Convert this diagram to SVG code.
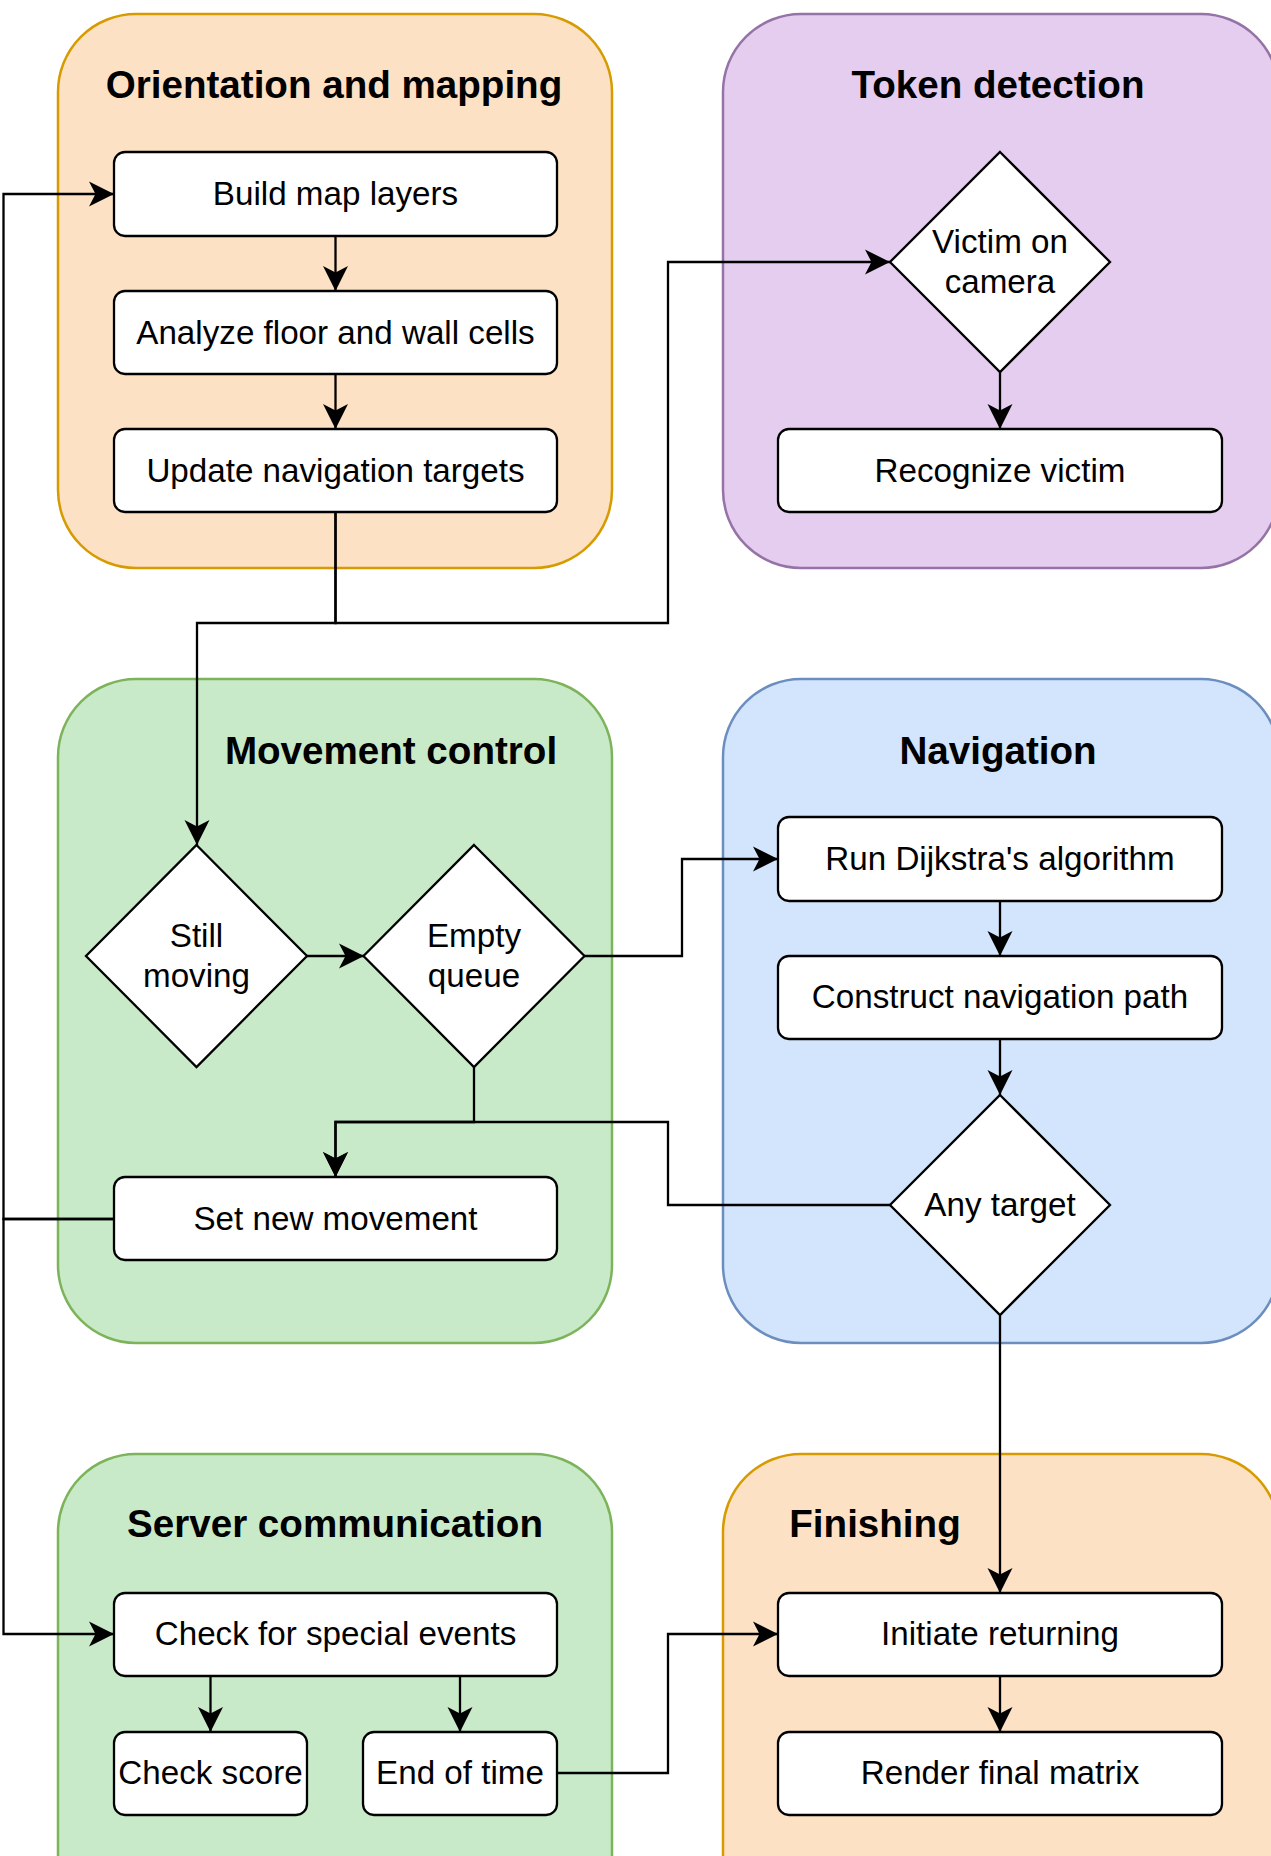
<svg xmlns="http://www.w3.org/2000/svg" width="1271" height="1856" viewBox="0 0 1271 1856">
<defs>
<marker id="arr" markerUnits="userSpaceOnUse" viewBox="-26 -14 28 28" refX="0" refY="0" markerWidth="28" markerHeight="28" orient="auto">
<path d="M-25,-12.5 L0,0 L-25,12.5 L-18.5,0 Z" fill="#000"/>
</marker>
<style>
.cont{stroke-width:2.5}
.orange{fill:#fde1c4;stroke:#d79b00}
.purple{fill:#e5cdf0;stroke:#9673a6}
.green{fill:#c8eac8;stroke:#7db35a}
.blue{fill:#d2e5fc;stroke:#6c8ebf}
.box{fill:#fff;stroke:#000;stroke-width:2.3}
.title{font-family:"Liberation Sans",Arial,sans-serif;font-weight:bold;font-size:38.6px;text-anchor:middle;fill:#000}
.lbl{font-family:"Liberation Sans",Arial,sans-serif;font-size:33.2px;text-anchor:middle;fill:#000}
.edge{fill:none;stroke:#000;stroke-width:2.3}
</style>
</defs>
<g id="containers">
<g id="grp-orientation"><rect class="cont orange" x="58" y="14" width="554" height="554" rx="78"/><text class="title" x="334" y="98">Orientation and mapping</text></g>
<g id="grp-token"><rect class="cont purple" x="723" y="14" width="556" height="554" rx="78"/><text class="title" x="998" y="98">Token detection</text></g>
<g id="grp-movement"><rect class="cont green" x="58" y="679" width="554" height="664" rx="78"/><text class="title" x="391" y="764">Movement control</text></g>
<g id="grp-navigation"><rect class="cont blue" x="723" y="679" width="556" height="664" rx="78"/><text class="title" x="998" y="764">Navigation</text></g>
<g id="grp-server"><rect class="cont green" x="58" y="1454" width="554" height="480" rx="78"/><text class="title" x="335" y="1537">Server communication</text></g>
<g id="grp-finishing"><rect class="cont orange" x="723" y="1454" width="556" height="480" rx="78"/><text class="title" x="875" y="1537">Finishing</text></g>
</g>
<g id="connectors">
<path class="edge" d="M335.5,236 V291" marker-end="url(#arr)"/>
<path class="edge" d="M335.5,374 V429" marker-end="url(#arr)"/>
<path class="edge" d="M335.5,512 V623 H197 V845" marker-end="url(#arr)"/>
<path class="edge" d="M335.5,512 V623 H668 V262 H890" marker-end="url(#arr)"/>
<path class="edge" d="M1000,372 V429" marker-end="url(#arr)"/>
<path class="edge" d="M307,956 H364" marker-end="url(#arr)"/>
<path class="edge" d="M584.5,956 H682 V859 H778" marker-end="url(#arr)"/>
<path class="edge" d="M1000,901 V956" marker-end="url(#arr)"/>
<path class="edge" d="M1000,1039 V1095" marker-end="url(#arr)"/>
<path class="edge" d="M474,1067 V1122 H335.5 V1177" marker-end="url(#arr)"/>
<path class="edge" d="M890,1205 H668 V1122 H335.5 V1177" marker-end="url(#arr)"/>
<path class="edge" d="M1000,1315 V1593" marker-end="url(#arr)"/>
<path class="edge" d="M114,1219 H3.5 V194 H114" marker-end="url(#arr)"/>
<path class="edge" d="M114,1219 H3.5 V1634 H114" marker-end="url(#arr)"/>
<path class="edge" d="M210.5,1676 V1732" marker-end="url(#arr)"/>
<path class="edge" d="M460,1676 V1732" marker-end="url(#arr)"/>
<path class="edge" d="M557,1773 H668 V1634 H778" marker-end="url(#arr)"/>
<path class="edge" d="M1000,1676 V1732" marker-end="url(#arr)"/>
</g>
<g id="n-build"><rect class="box" x="114" y="152" width="443" height="84" rx="11"/><text class="lbl" x="335.5" y="205">Build map layers</text></g>
<g id="n-analyze"><rect class="box" x="114" y="291" width="443" height="83" rx="11"/><text class="lbl" x="335.5" y="343.5">Analyze floor and wall cells</text></g>
<g id="n-update"><rect class="box" x="114" y="429" width="443" height="83" rx="11"/><text class="lbl" x="335.5" y="482">Update navigation targets</text></g>
<g id="n-victim"><polygon class="box" points="1000,152 1110,262 1000,372 890,262"/><text class="lbl" x="1000" y="253">Victim on</text><text class="lbl" x="1000" y="293">camera</text></g>
<g id="n-recognize"><rect class="box" x="778" y="429" width="444" height="83" rx="11"/><text class="lbl" x="1000" y="482">Recognize victim</text></g>
<g id="n-still"><polygon class="box" points="196.5,845 307,956 196.5,1067 86,956"/><text class="lbl" x="196.5" y="947">Still</text><text class="lbl" x="196.5" y="987">moving</text></g>
<g id="n-empty"><polygon class="box" points="474,845 584.5,956 474,1067 363.5,956"/><text class="lbl" x="474" y="947">Empty</text><text class="lbl" x="474" y="987">queue</text></g>
<g id="n-setmove"><rect class="box" x="114" y="1177" width="443" height="83" rx="11"/><text class="lbl" x="335.5" y="1230">Set new movement</text></g>
<g id="n-dijkstra"><rect class="box" x="778" y="817" width="444" height="84" rx="11"/><text class="lbl" x="1000" y="870">Run Dijkstra's algorithm</text></g>
<g id="n-construct"><rect class="box" x="778" y="956" width="444" height="83" rx="11"/><text class="lbl" x="1000" y="1008">Construct navigation path</text></g>
<g id="n-anytarget"><polygon class="box" points="1000,1095 1110,1205 1000,1315 890,1205"/><text class="lbl" x="1000" y="1216">Any target</text></g>
<g id="n-special"><rect class="box" x="114" y="1593" width="443" height="83" rx="11"/><text class="lbl" x="335.5" y="1645">Check for special events</text></g>
<g id="n-score"><rect class="box" x="114" y="1732" width="193" height="83" rx="11"/><text class="lbl" x="210.5" y="1784">Check score</text></g>
<g id="n-endtime"><rect class="box" x="363" y="1732" width="194" height="83" rx="11"/><text class="lbl" x="460" y="1784">End of time</text></g>
<g id="n-initiate"><rect class="box" x="778" y="1593" width="444" height="83" rx="11"/><text class="lbl" x="1000" y="1645">Initiate returning</text></g>
<g id="n-render"><rect class="box" x="778" y="1732" width="444" height="83" rx="11"/><text class="lbl" x="1000" y="1784">Render final matrix</text></g>
</svg>
